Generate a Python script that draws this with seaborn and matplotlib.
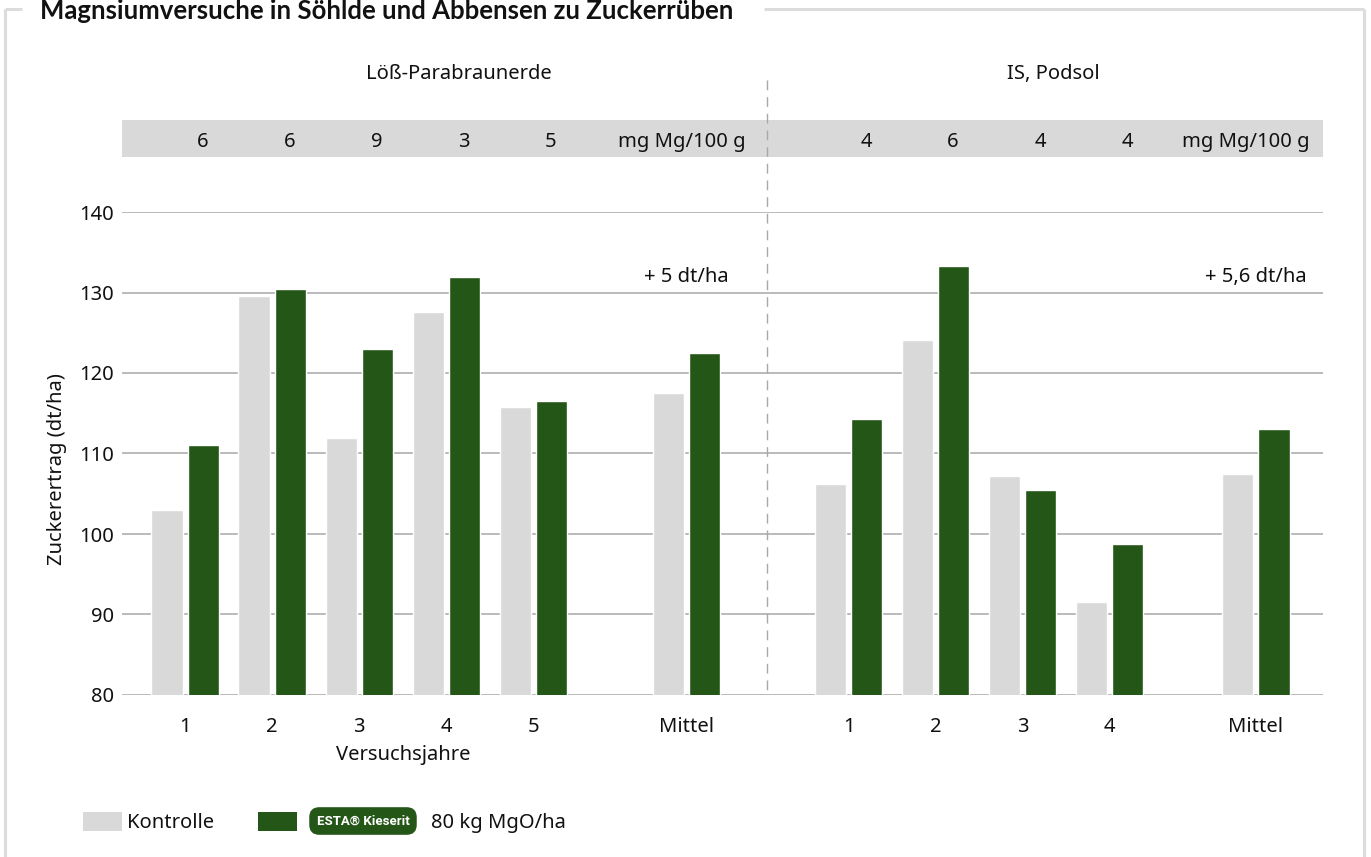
import matplotlib
matplotlib.use("Agg")
import matplotlib.pyplot as plt
import matplotlib.transforms as mtransforms
from matplotlib.patches import Rectangle
from matplotlib.lines import Line2D
import pandas as pd
import seaborn as sns

# ---- data -------------------------------------------------------------
years_loess = ["1", "2", "3", "4", "5"]
ctrl_loess = [103.0, 129.6, 111.9, 127.6, 115.8]
esta_loess = [111.0, 130.4, 123.0, 131.9, 116.5]
mg_loess = ["6", "6", "9", "3", "5"]
mean_ctrl_loess, mean_esta_loess = 117.5, 122.5

years_podsol = ["1", "2", "3", "4"]
ctrl_podsol = [106.2, 124.1, 107.2, 91.6]
esta_podsol = [114.3, 133.3, 105.5, 98.8]
mg_podsol = ["4", "6", "4", "4"]
mean_ctrl_podsol, mean_esta_podsol = 107.4, 113.0

site_names = ["Löß-Parabraunerde", "IS, Podsol"]
series_names = ["Kontrolle", "ESTA® Kieserit 80 kg MgO/ha"]
mean_label = "Mittel"
gain_labels = ["+ 5 dt/ha", "+ 5,6 dt/ha"]
unit_label = "mg Mg/100 g"
y_ticks = [80, 90, 100, 110, 120, 130, 140]

GREY = "#d9d9d9"
GREEN = "#245717"
FRAME = "#dcdcdc"
INK = "#111111"
FS = 14.5

# ---- layout of the x positions (group spacing = 1) -------------------
pos_loess = [float(i) for i in range(len(years_loess))]
pos_mean_loess = 5.76
pos_podsol = [7.62 + i for i in range(len(years_podsol))]
pos_mean_podsol = 12.30
divider_x = 6.68

positions = pos_loess + [pos_mean_loess] + pos_podsol + [pos_mean_podsol]
labels = years_loess + [mean_label] + years_podsol + [mean_label]
ctrl_all = ctrl_loess + [mean_ctrl_loess] + ctrl_podsol + [mean_ctrl_podsol]
esta_all = esta_loess + [mean_esta_loess] + esta_podsol + [mean_esta_podsol]

df = pd.DataFrame({
    "pos": positions * 2,
    "Variante": [series_names[0]] * len(positions) + [series_names[1]] * len(positions),
    "Ertrag": ctrl_all + esta_all,
})

# ---- figure ----------------------------------------------------------
sns.set_theme(style="white")
plt.rcParams["font.family"] = ["Noto Sans", "DejaVu Sans"]
W, H = 1371, 857
fig = plt.figure(figsize=(W / 100, H / 100), dpi=100)


def fx(px):
    return px / W


def fy(py):
    return 1 - py / H


ax = fig.add_axes([fx(122), fy(695), fx(1323) - fx(122), fy(212) - fy(695)])

sns.barplot(data=df, x="pos", y="Ertrag", hue="Variante", native_scale=True,
            hue_order=series_names, palette=[GREY, GREEN], width=0.83, gap=0.14,
            saturation=1, legend=False, ax=ax)

ax.set_xlim(-0.724, 13.07)
ax.set_ylim(80, 140)
ax.set_yticks(y_ticks)
ax.set_yticklabels([str(t) for t in y_ticks])
ax.set_xticks(positions)
ax.set_xticklabels(labels)
ax.tick_params(axis="both", length=0, labelsize=FS, colors=INK)
ax.tick_params(axis="x", pad=16)
ax.tick_params(axis="y", pad=6)
ax.set_xlabel("")
ax.set_ylabel("")
ax.yaxis.grid(True, color="#b4b4b4", linewidth=1.3)
ax.xaxis.grid(False)
ax.set_axisbelow(True)
for s in ax.spines.values():
    s.set_visible(False)

# sub-axis caption under the year numbers
fig.text(fx(403), fy(755), "Versuchsjahre", ha="center", va="center",
         fontsize=FS, color=INK)

# y axis title
fig.text(fx(57), fy(469), "Zuckerertrag (dt/ha)", rotation=90, ha="center",
         va="center", fontsize=FS, color=INK)

# mean gain annotations
for xm, lab in zip([pos_mean_loess, pos_mean_podsol], gain_labels):
    ax.text(xm, 131.9, lab, ha="center", va="center", fontsize=FS, color=INK)

# header band with soil magnesium contents
fig.add_artist(Rectangle((fx(122), fy(157)), fx(1323) - fx(122), fy(120) - fy(157),
                         transform=fig.transFigure, color=GREY, lw=0, zorder=0))
blend = mtransforms.blended_transform_factory(ax.transData, fig.transFigure)
for xs, vals in [(pos_loess, mg_loess), (pos_podsol, mg_podsol)]:
    for x, v in zip(xs, vals):
        fig.text(x + 0.2, fy(142), v, transform=blend, ha="center", va="center",
                 fontsize=FS, color=INK)
for xr in [746, 1310]:
    fig.text(fx(xr), fy(142), unit_label, ha="right", va="center",
             fontsize=FS, color=INK)

# site titles
fig.text(fx(459), fy(74), site_names[0], ha="center", va="center",
         fontsize=FS, color=INK)
fig.text(fx(1053), fy(74), site_names[1], ha="center", va="center",
         fontsize=FS, color=INK)

# dashed divider between the two sites
fig.add_artist(Line2D([divider_x, divider_x], [fy(80), fy(695)], color="#a8a8a8",
                      lw=1.0, linestyle=(0, (7, 5)), transform=blend, zorder=3))

# legend
fig.add_artist(Rectangle((fx(83), fy(831)), fx(122) - fx(83), fy(812) - fy(831),
                         transform=fig.transFigure, color=GREY, lw=0))
fig.text(fx(127), fy(823), series_names[0], ha="left", va="center",
         fontsize=FS, color=INK)
fig.add_artist(Rectangle((fx(258), fy(831)), fx(297) - fx(258), fy(812) - fy(831),
                         transform=fig.transFigure, color=GREEN, lw=0))
fig.text(fx(363), fy(821), "ESTA® Kieserit", ha="center", va="center",
         fontsize=9.5, fontweight="bold", color="white",
         family=["Roboto", "DejaVu Sans"],
         bbox=dict(boxstyle="round,pad=0.5,rounding_size=0.7", fc=GREEN, ec=GREEN))
fig.text(fx(431), fy(823), "80 kg MgO/ha", ha="left", va="center",
         fontsize=FS, color=INK)

# outer frame with the title set into its top edge
frame_kw = dict(color=FRAME, lw=2.2, transform=fig.transFigure, solid_capstyle="butt")
fig.add_artist(Line2D([fx(5), fx(22)], [fy(9), fy(9)], **frame_kw))
fig.add_artist(Line2D([fx(764), fx(1364)], [fy(9), fy(9)], **frame_kw))
fig.add_artist(Line2D([fx(5), fx(5)], [fy(9), fy(857)], **frame_kw))
fig.add_artist(Line2D([fx(1364), fx(1364)], [fy(9), fy(857)], **frame_kw))
fig.text(fx(40), fy(19), "Magnsiumversuche in Söhlde und Abbensen zu Zuckerrüben",
         ha="left", va="baseline", fontsize=18.5, fontweight="bold", color=INK,
         family=["Lato", "DejaVu Sans"])

fig.savefig("out.png", dpi=100)
